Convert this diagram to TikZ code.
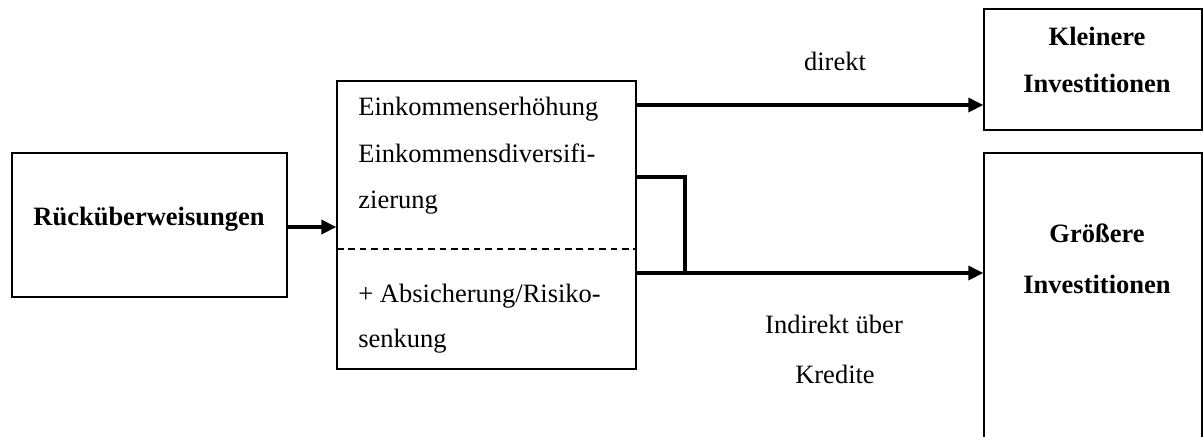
\documentclass[tikz,border=0pt]{standalone}
\usepackage{fontspec}
\setmainfont{Liberation Serif}
\usetikzlibrary{arrows.meta,fit}
\begin{document}
\begin{tikzpicture}[x=0.5pt,y=-0.5pt,
  box/.style={draw,line width=0.65pt,inner sep=0pt},
  arr/.style={line width=1.65pt,-{Triangle[length=7.5pt,width=7pt]}},
  conn/.style={line width=1.65pt},
  txt/.style={inner sep=0pt,font=\fontsize{13.25}{16}\selectfont},
  btxt/.style={txt,font=\fontsize{13.25}{16}\selectfont\bfseries}]
\useasboundingbox (0,0) rectangle (1203,436);
% boxes
\node[box,fit={(12,153)(287,297)}] (rue) {};
\node[box,fit={(337,81)(636,369)}] (mid) {};
\node[box,fit={(984,9)(1202,130)}] (klein) {};
\node[box,fit={(984,153)(1202,470)}] (gross) {};
% dashed divider
\coordinate (d1) at (337,249);
\draw[dashed,line width=0.65pt,dash pattern=on 3.3pt off 2.4pt] (d1) -- (d1 -| mid.east);
% texts
\node[btxt,anchor=base] (true) at (149,225) {Rücküberweisungen};
\node[txt,anchor=base west] (m1) at (358,115) {Einkommenserhöhung};
\node[txt,anchor=base west] (m2) at (358,162) {Einkommensdiversifi-};
\node[txt,anchor=base west] (m3) at (358,208) {zierung};
\node[txt,anchor=base west] (m4) at (358,302) {+ Absicherung/Risiko-};
\node[txt,anchor=base west] (m5) at (358,347) {senkung};
\node[btxt,anchor=base] (k1) at (1097,45) {Kleinere};
\node[btxt,anchor=base] (k2) at (1097,92) {Investitionen};
\node[btxt,anchor=base] (g1) at (1097,242) {Größere};
\node[btxt,anchor=base] (g2) at (1097,293) {Investitionen};
\node[txt,anchor=base] (ldir) at (835,70) {direkt};
\node[txt,anchor=base] (lind1) at (834,333) {Indirekt über};
\node[txt,anchor=base] (lind2) at (835,383) {Kredite};
% connectors
\coordinate (r1) at (287,227);
\draw[arr] (r1) -- (r1 -| mid.west);
\coordinate (a1) at (636,105);
\draw[arr] (a1) -- (a1 -| klein.west);
\coordinate (b0) at (636,177);
\coordinate (bk) at (685,177);
\coordinate (bj) at (685,273);
\coordinate (b1) at (636,273);
\draw[conn] (b0) -- (bk) -- (bj);
\draw[arr] (b1) -- (b1 -| gross.west);
\end{tikzpicture}
\end{document}
